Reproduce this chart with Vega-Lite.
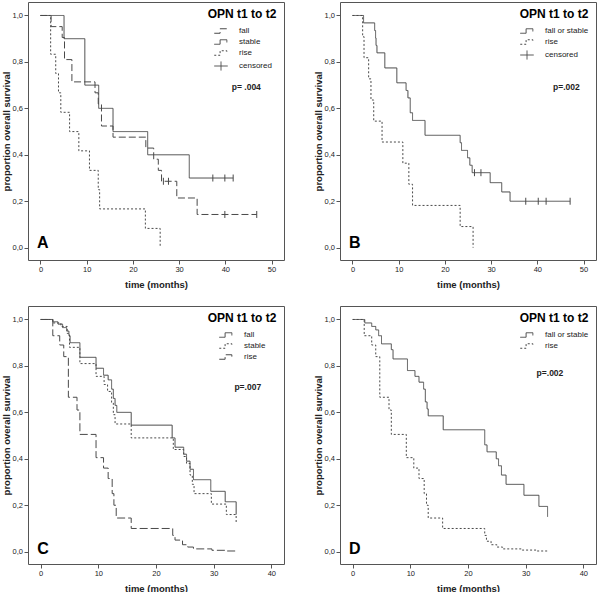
{
  "$schema": "https://vega.github.io/schema/vega-lite/v6.json",
  "padding": {"left": 0, "top": 1, "right": 0, "bottom": 0},
  "background": "white",
  "columns": 2,
  "spacing": {"row": 16, "column": 27},
  "resolve": {
    "scale": {"strokeDash": "independent", "x": "independent", "y": "independent"},
    "legend": {"strokeDash": "independent"}
  },
  "config": {
    "view": {"stroke": "#555", "strokeWidth": 1},
    "axis": {
      "domain": false, "grid": false, "tickColor": "#555", "tickSize": 4,
      "labelFont": "Liberation Sans", "labelFontSize": 7.5, "labelColor": "#222", "labelPadding": 1.5,
      "titleFont": "Liberation Sans", "titleFontSize": 9.5, "titleFontWeight": "bold", "titleColor": "#222"
    },
    "axisX": {"titlePadding": 6},
    "axisY": {"titlePadding": 1},
    "legend": {
      "titleFont": "Liberation Sans", "titleFontSize": 12, "titleFontWeight": "bold", "titleColor": "#000",
      "titleAnchor": "middle",
      "labelFont": "Liberation Sans", "labelFontSize": 8, "labelColor": "#222",
      "symbolSize": 81, "symbolStrokeWidth": 1, "rowPadding": 1, "titlePadding": 5,
      "labelOffset": 13, "symbolOffset": 3, "padding": 0, "offset": 7
    }
  },
  "datasets": {
    "a": [
      {"g": "fall", "t": 0, "s": 1}, {"g": "fall", "t": 2.3, "s": 0.952}, {"g": "fall", "t": 4.7, "s": 0.905},
      {"g": "fall", "t": 5.2, "s": 0.81}, {"g": "fall", "t": 6.8, "s": 0.714}, {"g": "fall", "t": 11.8, "s": 0.667},
      {"g": "fall", "t": 12.5, "s": 0.619}, {"g": "fall", "t": 13.2, "s": 0.524}, {"g": "fall", "t": 15.7, "s": 0.476},
      {"g": "fall", "t": 22.8, "s": 0.429}, {"g": "fall", "t": 24.5, "s": 0.381}, {"g": "fall", "t": 25.5, "s": 0.333},
      {"g": "fall", "t": 26.2, "s": 0.286}, {"g": "fall", "t": 29.5, "s": 0.214}, {"g": "fall", "t": 33.9, "s": 0.143},
      {"g": "fall", "t": 46.8, "s": 0.143},
      {"g": "stable", "t": 0, "s": 1}, {"g": "stable", "t": 5.1, "s": 0.9}, {"g": "stable", "t": 9.6, "s": 0.7},
      {"g": "stable", "t": 12.6, "s": 0.6}, {"g": "stable", "t": 15.7, "s": 0.5}, {"g": "stable", "t": 23.2, "s": 0.4},
      {"g": "stable", "t": 32.2, "s": 0.3}, {"g": "stable", "t": 41.7, "s": 0.3},
      {"g": "rise", "t": 0, "s": 1}, {"g": "rise", "t": 2.2, "s": 0.833}, {"g": "rise", "t": 3.3, "s": 0.75},
      {"g": "rise", "t": 3.9, "s": 0.667}, {"g": "rise", "t": 4.4, "s": 0.583}, {"g": "rise", "t": 6.3, "s": 0.5},
      {"g": "rise", "t": 8.3, "s": 0.417}, {"g": "rise", "t": 10.6, "s": 0.333}, {"g": "rise", "t": 12.5, "s": 0.25},
      {"g": "rise", "t": 12.8, "s": 0.167}, {"g": "rise", "t": 22.7, "s": 0.083}, {"g": "rise", "t": 25.9, "s": 0}
    ],
    "aC": [
      {"t": 26.6, "s": 0.286}, {"t": 27.7, "s": 0.286}, {"t": 39.9, "s": 0.143}, {"t": 46.8, "s": 0.143},
      {"t": 37.3, "s": 0.3}, {"t": 39.9, "s": 0.3}, {"t": 41.7, "s": 0.3}
    ],
    "b": [
      {"g": "fall or stable", "t": 0, "s": 1}, {"g": "fall or stable", "t": 2.4, "s": 0.968},
      {"g": "fall or stable", "t": 4.8, "s": 0.935}, {"g": "fall or stable", "t": 5.0, "s": 0.903},
      {"g": "fall or stable", "t": 5.1, "s": 0.871}, {"g": "fall or stable", "t": 5.3, "s": 0.839},
      {"g": "fall or stable", "t": 7.0, "s": 0.774}, {"g": "fall or stable", "t": 9.6, "s": 0.71},
      {"g": "fall or stable", "t": 11.6, "s": 0.677}, {"g": "fall or stable", "t": 12.0, "s": 0.645},
      {"g": "fall or stable", "t": 12.5, "s": 0.581}, {"g": "fall or stable", "t": 13.0, "s": 0.548},
      {"g": "fall or stable", "t": 15.7, "s": 0.484}, {"g": "fall or stable", "t": 23.3, "s": 0.452},
      {"g": "fall or stable", "t": 23.6, "s": 0.419}, {"g": "fall or stable", "t": 24.9, "s": 0.387},
      {"g": "fall or stable", "t": 25.4, "s": 0.355}, {"g": "fall or stable", "t": 25.9, "s": 0.323},
      {"g": "fall or stable", "t": 29.8, "s": 0.28}, {"g": "fall or stable", "t": 32.3, "s": 0.24},
      {"g": "fall or stable", "t": 34.1, "s": 0.2}, {"g": "fall or stable", "t": 47.1, "s": 0.2},
      {"g": "rise", "t": 0, "s": 1}, {"g": "rise", "t": 2.2, "s": 0.909}, {"g": "rise", "t": 2.5, "s": 0.818},
      {"g": "rise", "t": 3.5, "s": 0.727}, {"g": "rise", "t": 4.0, "s": 0.636}, {"g": "rise", "t": 4.6, "s": 0.545},
      {"g": "rise", "t": 6.4, "s": 0.455}, {"g": "rise", "t": 10.9, "s": 0.364}, {"g": "rise", "t": 12.2, "s": 0.273},
      {"g": "rise", "t": 13.0, "s": 0.182}, {"g": "rise", "t": 23.3, "s": 0.091}, {"g": "rise", "t": 26.1, "s": 0}
    ],
    "bC": [
      {"t": 26.4, "s": 0.323}, {"t": 27.8, "s": 0.323}, {"t": 37.5, "s": 0.2}, {"t": 40.2, "s": 0.2},
      {"t": 41.9, "s": 0.2}, {"t": 47.1, "s": 0.2}
    ],
    "c": [
      {"g": "fall", "t": 0, "s": 1}, {"g": "fall", "t": 2.1, "s": 0.99}, {"g": "fall", "t": 3.0, "s": 0.98},
      {"g": "fall", "t": 3.8, "s": 0.965}, {"g": "fall", "t": 4.5, "s": 0.95}, {"g": "fall", "t": 4.9, "s": 0.93},
      {"g": "fall", "t": 5.1, "s": 0.9}, {"g": "fall", "t": 6.8, "s": 0.837}, {"g": "fall", "t": 9.6, "s": 0.79},
      {"g": "fall", "t": 10.9, "s": 0.76}, {"g": "fall", "t": 11.7, "s": 0.74}, {"g": "fall", "t": 12.3, "s": 0.7},
      {"g": "fall", "t": 12.6, "s": 0.66}, {"g": "fall", "t": 12.9, "s": 0.63}, {"g": "fall", "t": 13.2, "s": 0.6},
      {"g": "fall", "t": 15.7, "s": 0.545}, {"g": "fall", "t": 22.8, "s": 0.49}, {"g": "fall", "t": 23.3, "s": 0.45},
      {"g": "fall", "t": 24.8, "s": 0.42}, {"g": "fall", "t": 25.3, "s": 0.39}, {"g": "fall", "t": 25.9, "s": 0.355},
      {"g": "fall", "t": 26.5, "s": 0.31}, {"g": "fall", "t": 29.5, "s": 0.26}, {"g": "fall", "t": 32.0, "s": 0.215},
      {"g": "fall", "t": 33.9, "s": 0.16},
      {"g": "stable", "t": 0, "s": 1}, {"g": "stable", "t": 2.1, "s": 0.985}, {"g": "stable", "t": 3.5, "s": 0.97},
      {"g": "stable", "t": 4.6, "s": 0.94}, {"g": "stable", "t": 5.0, "s": 0.88}, {"g": "stable", "t": 6.8, "s": 0.81},
      {"g": "stable", "t": 9.6, "s": 0.755}, {"g": "stable", "t": 11.0, "s": 0.72}, {"g": "stable", "t": 11.6, "s": 0.69},
      {"g": "stable", "t": 12.3, "s": 0.64}, {"g": "stable", "t": 12.6, "s": 0.59}, {"g": "stable", "t": 12.9, "s": 0.55},
      {"g": "stable", "t": 15.7, "s": 0.49}, {"g": "stable", "t": 23.0, "s": 0.44}, {"g": "stable", "t": 24.8, "s": 0.41},
      {"g": "stable", "t": 25.3, "s": 0.38}, {"g": "stable", "t": 25.9, "s": 0.33}, {"g": "stable", "t": 26.3, "s": 0.29},
      {"g": "stable", "t": 26.6, "s": 0.25}, {"g": "stable", "t": 29.6, "s": 0.205}, {"g": "stable", "t": 32.2, "s": 0.16},
      {"g": "stable", "t": 33.9, "s": 0.125},
      {"g": "rise", "t": 0, "s": 1}, {"g": "rise", "t": 2.1, "s": 0.93}, {"g": "rise", "t": 3.3, "s": 0.89},
      {"g": "rise", "t": 4.0, "s": 0.84}, {"g": "rise", "t": 4.8, "s": 0.665}, {"g": "rise", "t": 6.3, "s": 0.61},
      {"g": "rise", "t": 6.8, "s": 0.505}, {"g": "rise", "t": 9.6, "s": 0.405}, {"g": "rise", "t": 10.9, "s": 0.36},
      {"g": "rise", "t": 11.7, "s": 0.315}, {"g": "rise", "t": 12.4, "s": 0.25}, {"g": "rise", "t": 12.7, "s": 0.2},
      {"g": "rise", "t": 13.1, "s": 0.145}, {"g": "rise", "t": 15.7, "s": 0.1}, {"g": "rise", "t": 22.9, "s": 0.07},
      {"g": "rise", "t": 23.3, "s": 0.05}, {"g": "rise", "t": 24.6, "s": 0.03}, {"g": "rise", "t": 25.5, "s": 0.02},
      {"g": "rise", "t": 26.5, "s": 0.012}, {"g": "rise", "t": 29.7, "s": 0.006}, {"g": "rise", "t": 32.0, "s": 0.003},
      {"g": "rise", "t": 34.0, "s": 0.003}
    ],
    "d": [
      {"g": "fall or stable", "t": 0, "s": 1}, {"g": "fall or stable", "t": 2.1, "s": 0.985},
      {"g": "fall or stable", "t": 3.3, "s": 0.97}, {"g": "fall or stable", "t": 4.0, "s": 0.955},
      {"g": "fall or stable", "t": 4.5, "s": 0.93}, {"g": "fall or stable", "t": 5.0, "s": 0.895},
      {"g": "fall or stable", "t": 6.7, "s": 0.87}, {"g": "fall or stable", "t": 7.0, "s": 0.83},
      {"g": "fall or stable", "t": 9.5, "s": 0.78}, {"g": "fall or stable", "t": 10.8, "s": 0.755},
      {"g": "fall or stable", "t": 11.5, "s": 0.73}, {"g": "fall or stable", "t": 12.3, "s": 0.7},
      {"g": "fall or stable", "t": 12.6, "s": 0.645}, {"g": "fall or stable", "t": 12.9, "s": 0.615},
      {"g": "fall or stable", "t": 13.1, "s": 0.585}, {"g": "fall or stable", "t": 15.7, "s": 0.525},
      {"g": "fall or stable", "t": 22.9, "s": 0.46}, {"g": "fall or stable", "t": 23.3, "s": 0.43},
      {"g": "fall or stable", "t": 24.9, "s": 0.4}, {"g": "fall or stable", "t": 25.3, "s": 0.37},
      {"g": "fall or stable", "t": 25.8, "s": 0.33}, {"g": "fall or stable", "t": 26.6, "s": 0.29},
      {"g": "fall or stable", "t": 29.7, "s": 0.243}, {"g": "fall or stable", "t": 32.3, "s": 0.195},
      {"g": "fall or stable", "t": 33.8, "s": 0.15},
      {"g": "rise", "t": 0, "s": 1}, {"g": "rise", "t": 2.0, "s": 0.93}, {"g": "rise", "t": 3.3, "s": 0.89},
      {"g": "rise", "t": 4.0, "s": 0.84}, {"g": "rise", "t": 4.7, "s": 0.665}, {"g": "rise", "t": 6.3, "s": 0.61},
      {"g": "rise", "t": 6.7, "s": 0.505}, {"g": "rise", "t": 9.3, "s": 0.405}, {"g": "rise", "t": 10.6, "s": 0.36},
      {"g": "rise", "t": 11.5, "s": 0.315}, {"g": "rise", "t": 12.4, "s": 0.25}, {"g": "rise", "t": 12.8, "s": 0.2},
      {"g": "rise", "t": 13.1, "s": 0.145}, {"g": "rise", "t": 15.6, "s": 0.1}, {"g": "rise", "t": 22.9, "s": 0.07},
      {"g": "rise", "t": 23.2, "s": 0.045}, {"g": "rise", "t": 24.0, "s": 0.03}, {"g": "rise", "t": 25.0, "s": 0.02},
      {"g": "rise", "t": 26.0, "s": 0.012}, {"g": "rise", "t": 29.4, "s": 0.007}, {"g": "rise", "t": 31.8, "s": 0.003},
      {"g": "rise", "t": 33.8, "s": 0.003}
    ]
  },
  "concat": [
    {
      "width": 256, "height": 258,
      "layer": [
        {
          "data": {"name": "a"},
          "mark": {"type": "line", "interpolate": "step-after", "strokeWidth": 1, "color": "#4a4a4a"},
          "encoding": {
            "x": {"field": "t", "type": "quantitative", "scale": {"domain": [-2.7, 52.7], "nice": false, "zero": false}, "axis": {"values": [0, 10, 20, 30, 40, 50], "title": "time (months)"}},
            "y": {"field": "s", "type": "quantitative", "scale": {"domain": [-0.053, 1.058], "nice": false, "zero": false}, "axis": {"values": [0, 0.2, 0.4, 0.6, 0.8, 1], "title": "proportion overall survival", "labelExpr": "replace(format(datum.value, '.1f'), '.', ',')"}},
            "strokeDash": {"field": "g", "type": "nominal", "scale": {"domain": ["fall", "stable", "rise", "censored"], "range": [[7, 3], [1, 0], [2, 2], [1, 0]]},
              "legend": {"title": "OPN t1 to t2", "orient": "top-right",
                "symbolType": {"expr": "datum.value === 'censored' ? 'M-1.5,0H1.5M0,-1V1' : 'M-1.5,0.5H-0.2V-0.5H1.3V0.1'"}}}
          }
        },
        {
          "data": {"name": "aC"},
          "mark": {"type": "point", "shape": "M0,-1V1", "size": 49, "filled": false, "strokeWidth": 1, "color": "#4a4a4a", "opacity": 1},
          "encoding": {"x": {"field": "t", "type": "quantitative"}, "y": {"field": "s", "type": "quantitative"}}
        },
        {
          "data": {"values": [{"label": "A"}]},
          "mark": {"type": "text", "font": "Liberation Sans", "fontSize": 16, "fontWeight": "bold", "align": "left", "baseline": "middle", "color": "#000"},
          "encoding": {"x": {"datum": -0.76}, "y": {"datum": 0.02}, "text": {"field": "label"}}
        },
        {
          "data": {"values": [{"label": "p= .004"}]},
          "mark": {"type": "text", "font": "Liberation Sans", "fontSize": 8.5, "fontWeight": "bold", "align": "left", "baseline": "middle", "color": "#222"},
          "encoding": {"x": {"datum": 41.4}, "y": {"datum": 0.693}, "text": {"field": "label"}}
        }
      ]
    },
    {
      "width": 256, "height": 258,
      "layer": [
        {
          "data": {"name": "b"},
          "mark": {"type": "line", "interpolate": "step-after", "strokeWidth": 1, "color": "#4a4a4a"},
          "encoding": {
            "x": {"field": "t", "type": "quantitative", "scale": {"domain": [-2.7, 52.7], "nice": false, "zero": false}, "axis": {"values": [0, 10, 20, 30, 40, 50], "title": "time (months)"}},
            "y": {"field": "s", "type": "quantitative", "scale": {"domain": [-0.053, 1.058], "nice": false, "zero": false}, "axis": {"values": [0, 0.2, 0.4, 0.6, 0.8, 1], "title": "proportion overall survival", "labelExpr": "replace(format(datum.value, '.1f'), '.', ',')"}},
            "strokeDash": {"field": "g", "type": "nominal", "scale": {"domain": ["fall or stable", "rise", "censored"], "range": [[1, 0], [2, 2], [1, 0]]},
              "legend": {"title": "OPN t1 to t2", "orient": "top-right",
                "symbolType": {"expr": "datum.value === 'censored' ? 'M-1.5,0H1.5M0,-1V1' : 'M-1.5,0.5H-0.2V-0.5H1.3V0.1'"}}}
          }
        },
        {
          "data": {"name": "bC"},
          "mark": {"type": "point", "shape": "M0,-1V1", "size": 49, "filled": false, "strokeWidth": 1, "color": "#4a4a4a", "opacity": 1},
          "encoding": {"x": {"field": "t", "type": "quantitative"}, "y": {"field": "s", "type": "quantitative"}}
        },
        {
          "data": {"values": [{"label": "B"}]},
          "mark": {"type": "text", "font": "Liberation Sans", "fontSize": 16, "fontWeight": "bold", "align": "left", "baseline": "middle", "color": "#000"},
          "encoding": {"x": {"datum": -0.76}, "y": {"datum": 0.02}, "text": {"field": "label"}}
        },
        {
          "data": {"values": [{"label": "p=.002"}]},
          "mark": {"type": "text", "font": "Liberation Sans", "fontSize": 8.5, "fontWeight": "bold", "align": "left", "baseline": "middle", "color": "#222"},
          "encoding": {"x": {"datum": 43.4}, "y": {"datum": 0.693}, "text": {"field": "label"}}
        }
      ]
    },
    {
      "width": 256, "height": 258,
      "layer": [
        {
          "data": {"name": "c"},
          "mark": {"type": "line", "interpolate": "step-after", "strokeWidth": 1, "color": "#4a4a4a"},
          "encoding": {
            "x": {"field": "t", "type": "quantitative", "scale": {"domain": [-2.2, 42.2], "nice": false, "zero": false}, "axis": {"values": [0, 10, 20, 30, 40], "title": "time (months)"}},
            "y": {"field": "s", "type": "quantitative", "scale": {"domain": [-0.053, 1.058], "nice": false, "zero": false}, "axis": {"values": [0, 0.2, 0.4, 0.6, 0.8, 1], "title": "proportion overall survival", "labelExpr": "replace(format(datum.value, '.1f'), '.', ',')"}},
            "strokeDash": {"field": "g", "type": "nominal", "scale": {"domain": ["fall", "stable", "rise"], "range": [[1, 0], [2, 2], [8, 3]]},
              "legend": {"title": "OPN t1 to t2", "orient": "top-right", "symbolType": "M-1.5,0.5H-0.2V-0.5H1.3V0.1"}}
          }
        },
        {
          "data": {"values": [{"label": "C"}]},
          "mark": {"type": "text", "font": "Liberation Sans", "fontSize": 16, "fontWeight": "bold", "align": "left", "baseline": "middle", "color": "#000"},
          "encoding": {"x": {"datum": -0.59}, "y": {"datum": 0.01}, "text": {"field": "label"}}
        },
        {
          "data": {"values": [{"label": "p=.007"}]},
          "mark": {"type": "text", "font": "Liberation Sans", "fontSize": 8.5, "fontWeight": "bold", "align": "left", "baseline": "middle", "color": "#222"},
          "encoding": {"x": {"datum": 33.6}, "y": {"datum": 0.709}, "text": {"field": "label"}}
        }
      ]
    },
    {
      "width": 256, "height": 258,
      "layer": [
        {
          "data": {"name": "d"},
          "mark": {"type": "line", "interpolate": "step-after", "strokeWidth": 1, "color": "#4a4a4a"},
          "encoding": {
            "x": {"field": "t", "type": "quantitative", "scale": {"domain": [-2.2, 42.2], "nice": false, "zero": false}, "axis": {"values": [0, 10, 20, 30, 40], "title": "time (months)"}},
            "y": {"field": "s", "type": "quantitative", "scale": {"domain": [-0.053, 1.058], "nice": false, "zero": false}, "axis": {"values": [0, 0.2, 0.4, 0.6, 0.8, 1], "title": "proportion overall survival", "labelExpr": "replace(format(datum.value, '.1f'), '.', ',')"}},
            "strokeDash": {"field": "g", "type": "nominal", "scale": {"domain": ["fall or stable", "rise"], "range": [[1, 0], [2, 2]]},
              "legend": {"title": "OPN t1 to t2", "orient": "top-right", "symbolType": "M-1.5,0.5H-0.2V-0.5H1.3V0.1"}}
          }
        },
        {
          "data": {"values": [{"label": "D"}]},
          "mark": {"type": "text", "font": "Liberation Sans", "fontSize": 16, "fontWeight": "bold", "align": "left", "baseline": "middle", "color": "#000"},
          "encoding": {"x": {"datum": -0.64}, "y": {"datum": 0.01}, "text": {"field": "label"}}
        },
        {
          "data": {"values": [{"label": "p=.002"}]},
          "mark": {"type": "text", "font": "Liberation Sans", "fontSize": 8.5, "fontWeight": "bold", "align": "left", "baseline": "middle", "color": "#222"},
          "encoding": {"x": {"datum": 31.9}, "y": {"datum": 0.769}, "text": {"field": "label"}}
        }
      ]
    }
  ]
}
